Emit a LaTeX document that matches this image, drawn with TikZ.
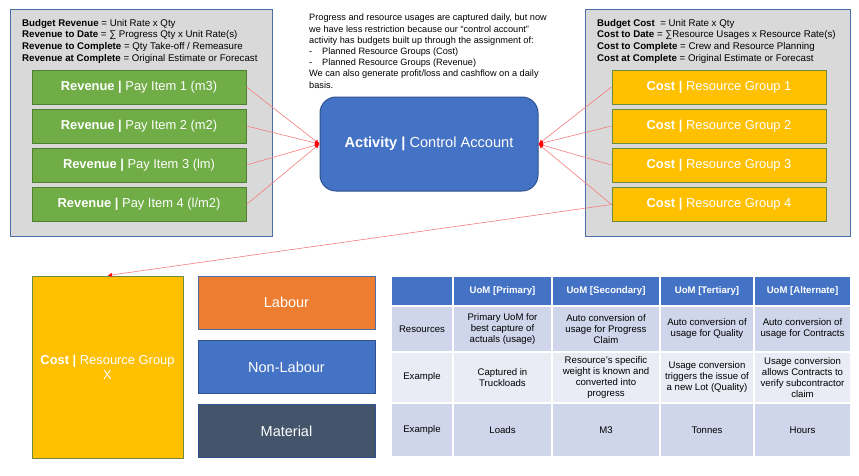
\documentclass[tikz,border=0pt]{standalone}
\usepackage{fontspec}
\setmainfont{Liberation Sans}
\usetikzlibrary{arrows.meta}
\definecolor{panelgray}{HTML}{D9D9D9}
\definecolor{paneledge}{HTML}{4A6EA8}
\definecolor{revgreen}{HTML}{70AD47}
\definecolor{revedge}{HTML}{507E32}
\definecolor{costgold}{HTML}{FFC000}
\definecolor{costedge}{HTML}{6E8B3D}
\definecolor{actblue}{HTML}{4472C4}
\definecolor{actedge}{HTML}{2F528F}
\definecolor{labourorange}{HTML}{ED7D31}
\definecolor{materialslate}{HTML}{44546A}
\definecolor{rowdark}{HTML}{CFD5EA}
\definecolor{rowlight}{HTML}{E9EBF5}
\definecolor{linkred}{HTML}{F47C7C}
\newcommand\notefont{\fontsize{9.7}{11.7}\selectfont}
\newcommand\parafont{\fontsize{9.2}{11.2}\selectfont}
\newcommand\boxfont{\fontsize{12.9}{15}\selectfont}
\newcommand\typefont{\fontsize{14.5}{17}\selectfont}
\newcommand\cellfont{\fontsize{9.6}{11}\selectfont}
\begin{document}
\begin{tikzpicture}[x=1pt,y=-1pt,
  panel/.style={draw=paneledge, fill=panelgray, line width=1pt, inner sep=0pt},
  revbox/.style={draw=revedge, fill=revgreen, line width=1pt, minimum width=214pt, minimum height=34pt, inner sep=0pt, text=white, font=\boxfont},
  costbox/.style={draw=costedge, fill=costgold, line width=1pt, minimum width=214pt, minimum height=34pt, inner sep=0pt, text=white, font=\boxfont},
  typebox/.style={draw=actedge, line width=1pt, minimum width=177pt, minimum height=53pt, inner sep=0pt, text=white, font=\typefont},
  note/.style={inner sep=0pt, align=left, font=\notefont},
  cell/.style={draw=white, line width=1.5pt, inner sep=0pt, align=center, font=\cellfont},
  hcell/.style={cell, fill=actblue, text=white, font=\cellfont\bfseries},
  link/.style={draw=linkred, line width=0.6pt, -{Latex[length=4.5pt,width=4pt,color=red]}}
]
\useasboundingbox (0,0) rectangle (859,475);
% revenue side
\node[panel, minimum width=262pt, minimum height=227pt] (revpanel) at (141,122.5){};
\node[note, anchor=north west] (revnote) at (22,19){\textbf{Budget Revenue} = Unit Rate x Qty\\
\textbf{Revenue to Date} = ∑ Progress Qty x Unit Rate(s)\\
\textbf{Revenue to Complete} = Qty Take-off / Remeasure\\
\textbf{Revenue at Complete} = Original Estimate or Forecast};
\node[revbox] (rev1) at (139,87){\textbf{Revenue |} Pay Item 1 (m3)};
\node[revbox] (rev2) at (139,126){\textbf{Revenue |} Pay Item 2 (m2)};
\node[revbox] (rev3) at (139,165){\textbf{Revenue |} Pay Item 3 (lm)};
\node[revbox] (rev4) at (139,204.5){\textbf{Revenue |} Pay Item 4 (l/m2)};
% cost side
\node[panel, minimum width=265pt, minimum height=227pt] (costpanel) at (717.5,122.5){};
\node[note, anchor=north west] (costnote) at (597,19){\textbf{Budget Cost}\ \ = Unit Rate x Qty\\
\textbf{Cost to Date} = ∑Resource Usages x Resource Rate(s)\\
\textbf{Cost to Complete} = Crew and Resource Planning\\
\textbf{Cost at Complete} = Original Estimate or Forecast};
\node[costbox] (cost1) at (719,87){\textbf{Cost |} Resource Group 1};
\node[costbox] (cost2) at (719,126){\textbf{Cost |} Resource Group 2};
\node[costbox] (cost3) at (719,165){\textbf{Cost |} Resource Group 3};
\node[costbox] (cost4) at (719,204.5){\textbf{Cost |} Resource Group 4};
% activity
\node[note, anchor=north west, font=\parafont] (actnote) at (309,14){Progress and resource usages are captured daily, but now\\
we have less restriction because our “control account”\\
activity has budgets built up through the assignment of:\\
\makebox[13pt][l]{-}Planned Resource Groups (Cost)\\
\makebox[13pt][l]{-}Planned Resource Groups (Revenue)\\
We can also generate profit/loss and cashflow on a daily\\
basis.};
\node[draw=actedge, fill=actblue, line width=1pt, rounded corners=16pt, minimum width=218pt, minimum height=94pt, inner sep=0pt, text=white, font=\fontsize{14.6}{17}\selectfont] (act) at (429,144){\textbf{Activity |} Control Account};
\draw[link](rev1.east) -- (act.west);
\draw[link](rev2.east) -- (act.west);
\draw[link](rev3.east) -- (act.west);
\draw[link](rev4.east) -- (act.west);
\draw[link](cost1.west) -- (act.east);
\draw[link](cost2.west) -- (act.east);
\draw[link](cost3.west) -- (act.east);
\draw[link](cost4.west) -- (act.east);
% resource group x
\node[costbox, minimum width=151pt, minimum height=182pt, align=center] (costx) at (107.5,367){\textbf{Cost |} Resource Group\\X};
\draw[link](cost4.west) -- (costx.north);
\node[typebox, fill=labourorange, draw=paneledge] (labour) at (286.5,302.5){Labour};
\node[typebox, fill=actblue] (nonlabour) at (286.5,367){Non-Labour};
\node[typebox, fill=materialslate] (material) at (286.5,431){Material};
% uom table
\node[hcell, minimum width=62pt, minimum height=30pt] (h0) at (422,291){};
\node[hcell, minimum width=99pt, minimum height=30pt] (h1) at (502.5,291){UoM [Primary]};
\node[hcell, minimum width=108pt, minimum height=30pt] (h2) at (606,291){UoM [Secondary]};
\node[hcell, minimum width=94pt, minimum height=30pt] (h3) at (707,291){UoM [Tertiary]};
\node[hcell, minimum width=97pt, minimum height=30pt] (h4) at (802.5,291){UoM [Alternate]};
\node[cell, fill=rowdark, minimum width=62pt, minimum height=46pt] (r1c0) at (422,329){Resources};
\node[cell, fill=rowdark, minimum width=99pt, minimum height=46pt] (r1c1) at (502.5,329){Primary UoM for\\best capture of\\actuals (usage)};
\node[cell, fill=rowdark, minimum width=108pt, minimum height=46pt] (r1c2) at (606,329){Auto conversion of\\usage for Progress\\Claim};
\node[cell, fill=rowdark, minimum width=94pt, minimum height=46pt] (r1c3) at (707,329){Auto conversion of\\usage for Quality};
\node[cell, fill=rowdark, minimum width=97pt, minimum height=46pt] (r1c4) at (802.5,329){Auto conversion of\\usage for Contracts};
\node[cell, fill=rowlight, minimum width=62pt, minimum height=51pt] (r2c0) at (422,377.5){Example};
\node[cell, fill=rowlight, minimum width=99pt, minimum height=51pt] (r2c1) at (502.5,377.5){Captured in\\Truckloads};
\node[cell, fill=rowlight, minimum width=108pt, minimum height=51pt] (r2c2) at (606,377.5){Resource’s specific\\weight is known and\\converted into\\progress};
\node[cell, fill=rowlight, minimum width=94pt, minimum height=51pt] (r2c3) at (707,377.5){Usage conversion\\triggers the issue of\\a new Lot (Quality)};
\node[cell, fill=rowlight, minimum width=97pt, minimum height=51pt] (r2c4) at (802.5,377.5){Usage conversion\\allows Contracts to\\verify subcontractor\\claim};
\node[cell, fill=rowdark, minimum width=62pt, minimum height=54pt] (r3c0) at (422,430){Example};
\node[cell, fill=rowdark, minimum width=99pt, minimum height=54pt] (r3c1) at (502.5,430){Loads};
\node[cell, fill=rowdark, minimum width=108pt, minimum height=54pt] (r3c2) at (606,430){M3};
\node[cell, fill=rowdark, minimum width=94pt, minimum height=54pt] (r3c3) at (707,430){Tonnes};
\node[cell, fill=rowdark, minimum width=97pt, minimum height=54pt] (r3c4) at (802.5,430){Hours};
\end{tikzpicture}
\end{document}
